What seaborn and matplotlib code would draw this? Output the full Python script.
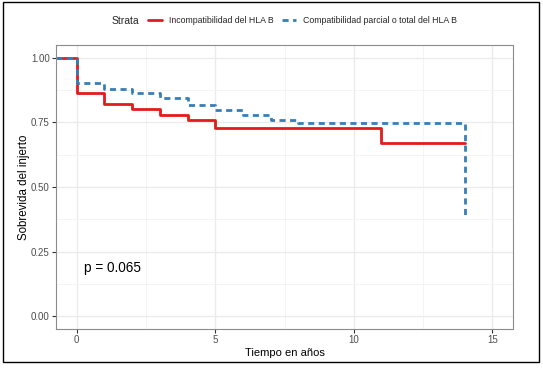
import matplotlib
matplotlib.use("Agg")
import matplotlib.pyplot as plt
import seaborn as sns
import pandas as pd
from matplotlib.lines import Line2D
from matplotlib.patches import Rectangle

# Data
strata = ["Incompatibilidad del HLA B", "Compatibilidad parcial o total del HLA B"]
red_time = [-0.75, 0, 1, 2, 3, 4, 5, 11, 14]
red_surv = [1.0, 0.863, 0.820, 0.804, 0.780, 0.758, 0.729, 0.669, 0.669]
blue_time = [-0.75, 0, 1, 2, 3, 4, 5, 6, 7, 8, 14]
blue_surv = [1.0, 0.901, 0.881, 0.865, 0.846, 0.818, 0.797, 0.779, 0.758, 0.746, 0.384]
x_ticks = [0, 5, 10, 15]
y_ticks = [0.0, 0.25, 0.50, 0.75, 1.00]
y_ticklabels = ["0.00", "0.25", "0.50", "0.75", "1.00"]
pval_text = "p = 0.065"

df = pd.concat([
    pd.DataFrame({"time": red_time, "surv": red_surv, "strata": strata[0]}),
    pd.DataFrame({"time": blue_time, "surv": blue_surv, "strata": strata[1]}),
], ignore_index=True)

sns.set_theme(style="white")
plt.rcParams["font.family"] = ["Liberation Sans", "DejaVu Sans"]

colors = {strata[0]: "#E41A1C", strata[1]: "#377EB8"}
dash_styles = {strata[0]: "", strata[1]: (2.2, 1.6)}

fig = plt.figure(figsize=(5.43, 3.68), dpi=100)
ax = fig.add_axes([56/543, 1-329/368, (513-56)/543, (329-45)/368])

sns.lineplot(data=df, x="time", y="surv", hue="strata", style="strata",
             palette=colors, dashes=dash_styles, estimator=None, sort=False,
             drawstyle="steps-post", linewidth=2.0, ax=ax, legend=False)

ax.set_xlim(-0.75, 15.75)
ax.set_ylim(-0.05, 1.05)
ax.set_xticks(x_ticks)
ax.set_xticks([2.5, 7.5, 12.5], minor=True)
ax.set_yticks(y_ticks)
ax.set_yticklabels(y_ticklabels)
ax.set_yticks([0.125, 0.375, 0.625, 0.875], minor=True)
ax.grid(True, which="major", color="#EBEBEB", linewidth=1.0)
ax.grid(True, which="minor", color="#F2F2F2", linewidth=0.6)
ax.set_axisbelow(True)
for s in ax.spines.values():
    s.set_color("#8c8c8c")
    s.set_linewidth(0.8)
ax.tick_params(axis="both", which="major", length=3, width=0.8, color="#333333",
               labelsize=7, labelcolor="#4D4D4D", pad=1.5, bottom=True, left=True)
ax.tick_params(axis="both", which="minor", length=0)
ax.set_xlabel("Tiempo en años", fontsize=8, color="black", labelpad=2)
ax.set_ylabel("Sobrevida del injerto", fontsize=8.3, color="black", labelpad=0.5)

ax.text(0.27, 0.185, pval_text, fontsize=9.8, ha="left", va="center", color="black")

# Legend on top
fig.text(112/543, 1-20.5/368, "Strata", fontsize=7.5, ha="left", va="center")
handles = [Line2D([], [], color=colors[strata[0]], lw=2.0),
           Line2D([], [], color=colors[strata[1]], lw=2.0, dashes=(2.2, 1.6))]
fig.legend(handles, strata, loc="center left", bbox_to_anchor=(148/543, 1-20.5/368),
           ncol=2, frameon=False, fontsize=6.3, handlelength=1.6, handletextpad=0.8,
           columnspacing=0.9, borderpad=0, borderaxespad=0)

# Outer border
fig.add_artist(Rectangle((3/543, 6/368), 536/543, 360/368, transform=fig.transFigure,
                         fill=False, edgecolor="black", linewidth=1.0))

fig.savefig("out.png", dpi=100)
